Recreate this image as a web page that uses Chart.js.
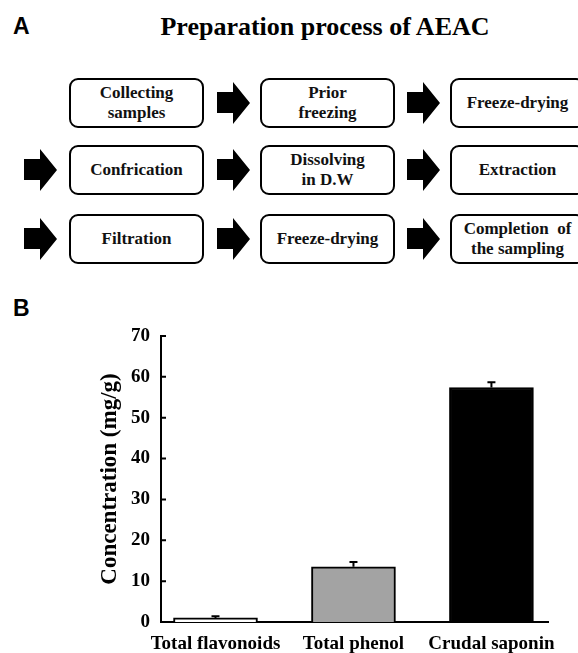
<!DOCTYPE html>
<html>
<head>
<meta charset="utf-8">
<script src="https://cdn.jsdelivr.net/npm/chart.js@4.4.0/dist/chart.umd.min.js"></script>
<style>
  body { margin: 0; background: #fff; }
  .page { position: relative; width: 578px; height: 653px; overflow: hidden; background: #fff; }
  .panel-tag { position: absolute; left: 13px; font: bold 23px "Liberation Sans", Arial, sans-serif; color: #000; }
  .title { position: absolute; top: 12px; left: 0; width: 650px; text-align: center;
           font: bold 26px "Liberation Serif", "Times New Roman", serif; color: #000; }
  .step { position: absolute; width: 135px; height: 50px; box-sizing: border-box;
          border: 2.5px solid #000; border-radius: 9px; display: flex; align-items: center;
          justify-content: center; text-align: center;
          font: bold 17px/20px "Liberation Serif", "Times New Roman", serif; color: #111; }
  .arrow { position: absolute; width: 33px; height: 42px; }
  #chartBox { position: absolute; left: 0; top: 300px; width: 578px; height: 353px; }
</style>
</head>
<body>
<div class="page" id="page">
  <div class="panel-tag" style="top:13px">A</div>
  <div class="title">Preparation process of AEAC</div>
  <div class="panel-tag" style="top:295px">B</div>
  <div id="chartBox"><canvas id="concChart" width="578" height="353"></canvas></div>
</div>
<script>
// flowchart steps, row by row
const steps = [
  ["Collecting<br>samples", "Prior<br>freezing", "Freeze-drying"],
  ["Confrication", "Dissolving<br>in D.W", "Extraction"],
  ["Filtration", "Freeze-drying", "Completion&nbsp; of<br>the sampling"]
];

// bar chart data
const categories = ["Total flavonoids", "Total phenol", "Crudal saponin"];
const concentration = [1.0, 13.5, 57.4];
const errorUp = [0.4, 1.2, 1.3];
const yTicks = [0, 10, 20, 30, 40, 50, 60, 70];

const page = document.getElementById("page");
const colLeft = [69, 260, 450];
const rowTop = [78, 145, 214];
const arrowSvg =
  '<svg width="33" height="42"><polygon points="0,10 16,10 16,0 33,21 16,42 16,31 0,31" fill="#000"/></svg>';

steps.forEach((row, r) => {
  row.forEach((txt, c) => {
    const box = document.createElement("div");
    box.className = "step";
    box.style.left = colLeft[c] + "px";
    box.style.top = rowTop[r] + "px";
    box.innerHTML = txt;
    page.appendChild(box);
    if (c > 0 || r > 0) {
      const ar = document.createElement("div");
      ar.className = "arrow";
      ar.style.left = (c == 0 ? 24 : colLeft[c] - 43) + "px";
      ar.style.top = rowTop[r] + 4 + "px";
      ar.innerHTML = arrowSvg;
      page.appendChild(ar);
    }
  });
});

const serif = "'Liberation Serif', 'Times New Roman', serif";

// error bars (upper half only) and inward y ticks
const errorBars = {
  id: "errorBars",
  afterDatasetsDraw(chart) {
    const { ctx, scales: { x, y } } = chart;
    ctx.save();
    ctx.strokeStyle = "#000";
    ctx.lineWidth = 2;
    ctx.beginPath();
    concentration.forEach((v, i) => {
      const px = x.getPixelForValue(i);
      const top = y.getPixelForValue(v);
      const tip = y.getPixelForValue(v + errorUp[i]);
      ctx.moveTo(px, top);
      ctx.lineTo(px, tip);
      ctx.moveTo(px - 4, tip);
      ctx.lineTo(px + 4, tip);
    });
    yTicks.forEach((t) => {
      const py = y.getPixelForValue(t);
      ctx.moveTo(x.left, py);
      ctx.lineTo(x.left + 5, py);
    });
    ctx.stroke();
    ctx.restore();
  }
};

new Chart(document.getElementById("concChart"), {
  type: "bar",
  data: {
    datasets: [
      {
        data: categories.map((c, i) => ({ x: i, y: concentration[i] })),
        backgroundColor: ["#ffffff", "#a3a3a3", "#000000"],
        borderColor: "#000",
        borderWidth: 2,
        barThickness: 84
      }
    ]
  },
  options: {
    responsive: false,
    animation: false,
    layout: { padding: { left: 0, right: 30, top: 36, bottom: 0 } },
    plugins: { legend: { display: false }, tooltip: { enabled: false } },
    scales: {
      x: {
        type: "linear",
        bounds: "data",
        offset: false,
        min: -0.395,
        max: 2.41,
        grid: { display: false, drawTicks: false, offset: false },
        border: { color: "#000", width: 2 },
        afterBuildTicks: (s) => {
          s.ticks = categories.map((c, i) => ({ value: i }));
        },
        afterFit: (s) => {
          s.height = 31;
        },
        ticks: {
          callback: (v) => categories[v],
          autoSkip: false,
          maxRotation: 0,
          padding: 11,
          color: "#000",
          font: { family: serif, size: 19, weight: "bold" }
        }
      },
      y: {
        min: 0,
        max: 70,
        grid: { display: false, drawTicks: false },
        border: { color: "#000", width: 2 },
        afterFit: (s) => {
          s.width = 161;
        },
        ticks: {
          stepSize: 10,
          padding: 11,
          color: "#000",
          font: { family: serif, size: 19, weight: "bold" }
        },
        title: {
          display: true,
          text: "Concentration (mg/g)",
          color: "#000",
          padding: { top: 96, bottom: 0 },
          font: { family: serif, size: 23, weight: "bold" }
        }
      }
    }
  },
  plugins: [errorBars]
});
</script>
</body>
</html>
